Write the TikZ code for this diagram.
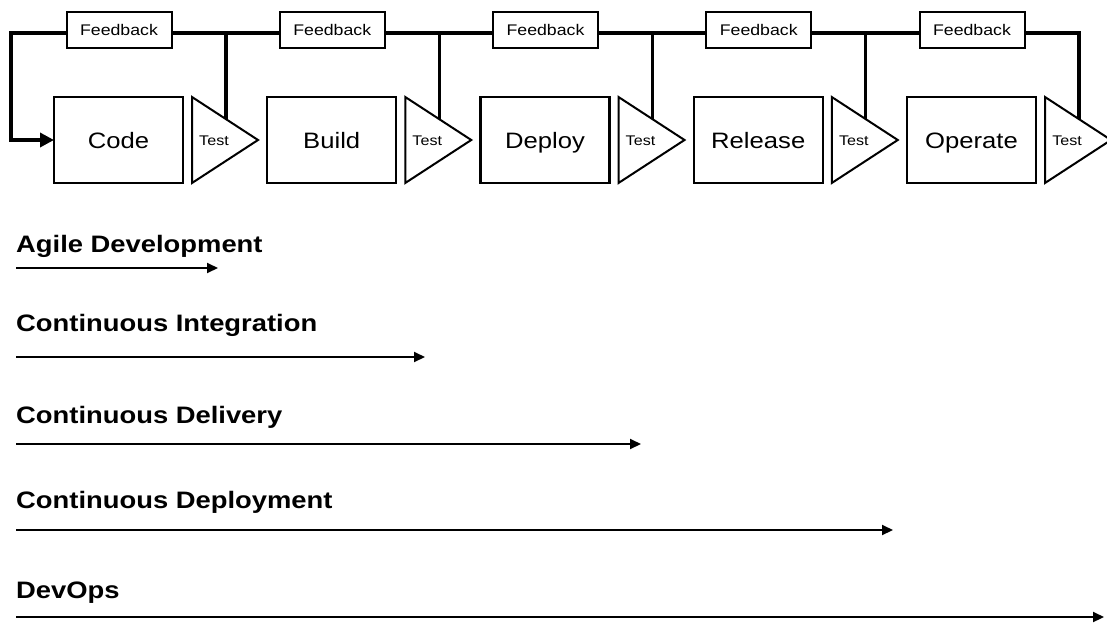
\documentclass[tikz,border=0pt]{standalone}
\usepackage{fontspec}
\setmainfont{Liberation Sans}[FakeStretch=1.15]
\usetikzlibrary{arrows.meta}

\tikzset{
  stagebox/.style={draw, line width=2.2pt, minimum width=129pt, minimum height=86pt,
    inner sep=0pt, outer sep=0pt, text height=16pt, text depth=0pt,
    font=\fontsize{22.3}{26}\selectfont},
  testtri/.style={draw, line width=2pt, line join=miter},
  testlbl/.style={inner sep=0pt, font=\fontsize{14}{16}\selectfont},
  fbbox/.style={draw, fill=white, line width=2pt, minimum width=105pt, minimum height=36pt,
    inner sep=0pt, text height=11pt, text depth=0pt, font=\fontsize{15.4}{18}\selectfont},
  bus/.style={line width=3.4pt},
  fbarrow/.style={bus, -{Triangle[length=14pt,width=14pt]}},
  heading/.style={anchor=base west, inner sep=0pt, font=\fontsize{23.8}{28}\selectfont\bfseries},
  phase/.style={line width=2pt, -{Triangle[length=11pt,width=10pt]}}
}

\begin{document}
\begin{tikzpicture}[x=1pt, y=-1pt]
\useasboundingbox (0,0) rectangle (1107,624);

% pipeline stages, each followed by its test gate
\foreach \n/\lbl [count=\i from 0] in {code/Code, build/Build, deploy/Deploy, release/Release, operate/Operate} {
  \pgfmathsetmacro\L{54+213.25*\i}
  \node[stagebox] (\n) at (\L+64.5,140) {\lbl};
  \draw[testtri] (\L+138,97) -- (\L+204,140) -- (\L+138,183) -- cycle;
  \node[testlbl] (test\n) at (\L+160,140.5) {Test};
  \coordinate (tap\n) at (\L+172,119.2);
}

% feedback bus back to the start of the pipeline
\coordinate (busturn) at (11,33);
\draw[fbarrow] (tapoperate) |- (busturn) |- (code.west);
\foreach \n in {code,build,deploy,release}
  \draw[bus] (tap\n) -- (tap\n |- busturn);

% feedback labels on the bus
\foreach \n [count=\i from 0] in {code,build,deploy,release,operate} {
  \pgfmathsetmacro\L{54+213.25*\i}
  \node[fbbox] (fb\n) at (\L+65,30) {Feedback};
}

% practices and the span of the pipeline they cover
\foreach \n/\txt/\yb/\ya/\xe in {
    agile/Agile Development/252/268/218,
    ci/Continuous Integration/331.5/357/425,
    cdel/Continuous Delivery/423.3/444/641,
    cdep/Continuous Deployment/508.3/530/893,
    devops/DevOps/598/617/1104} {
  \node[heading] (h\n) at (16,\yb) {\txt};
  \coordinate (e\n) at (\xe,\ya);
  \draw[phase] (h\n.west |- e\n) -- (e\n);
}
\end{tikzpicture}
\end{document}
